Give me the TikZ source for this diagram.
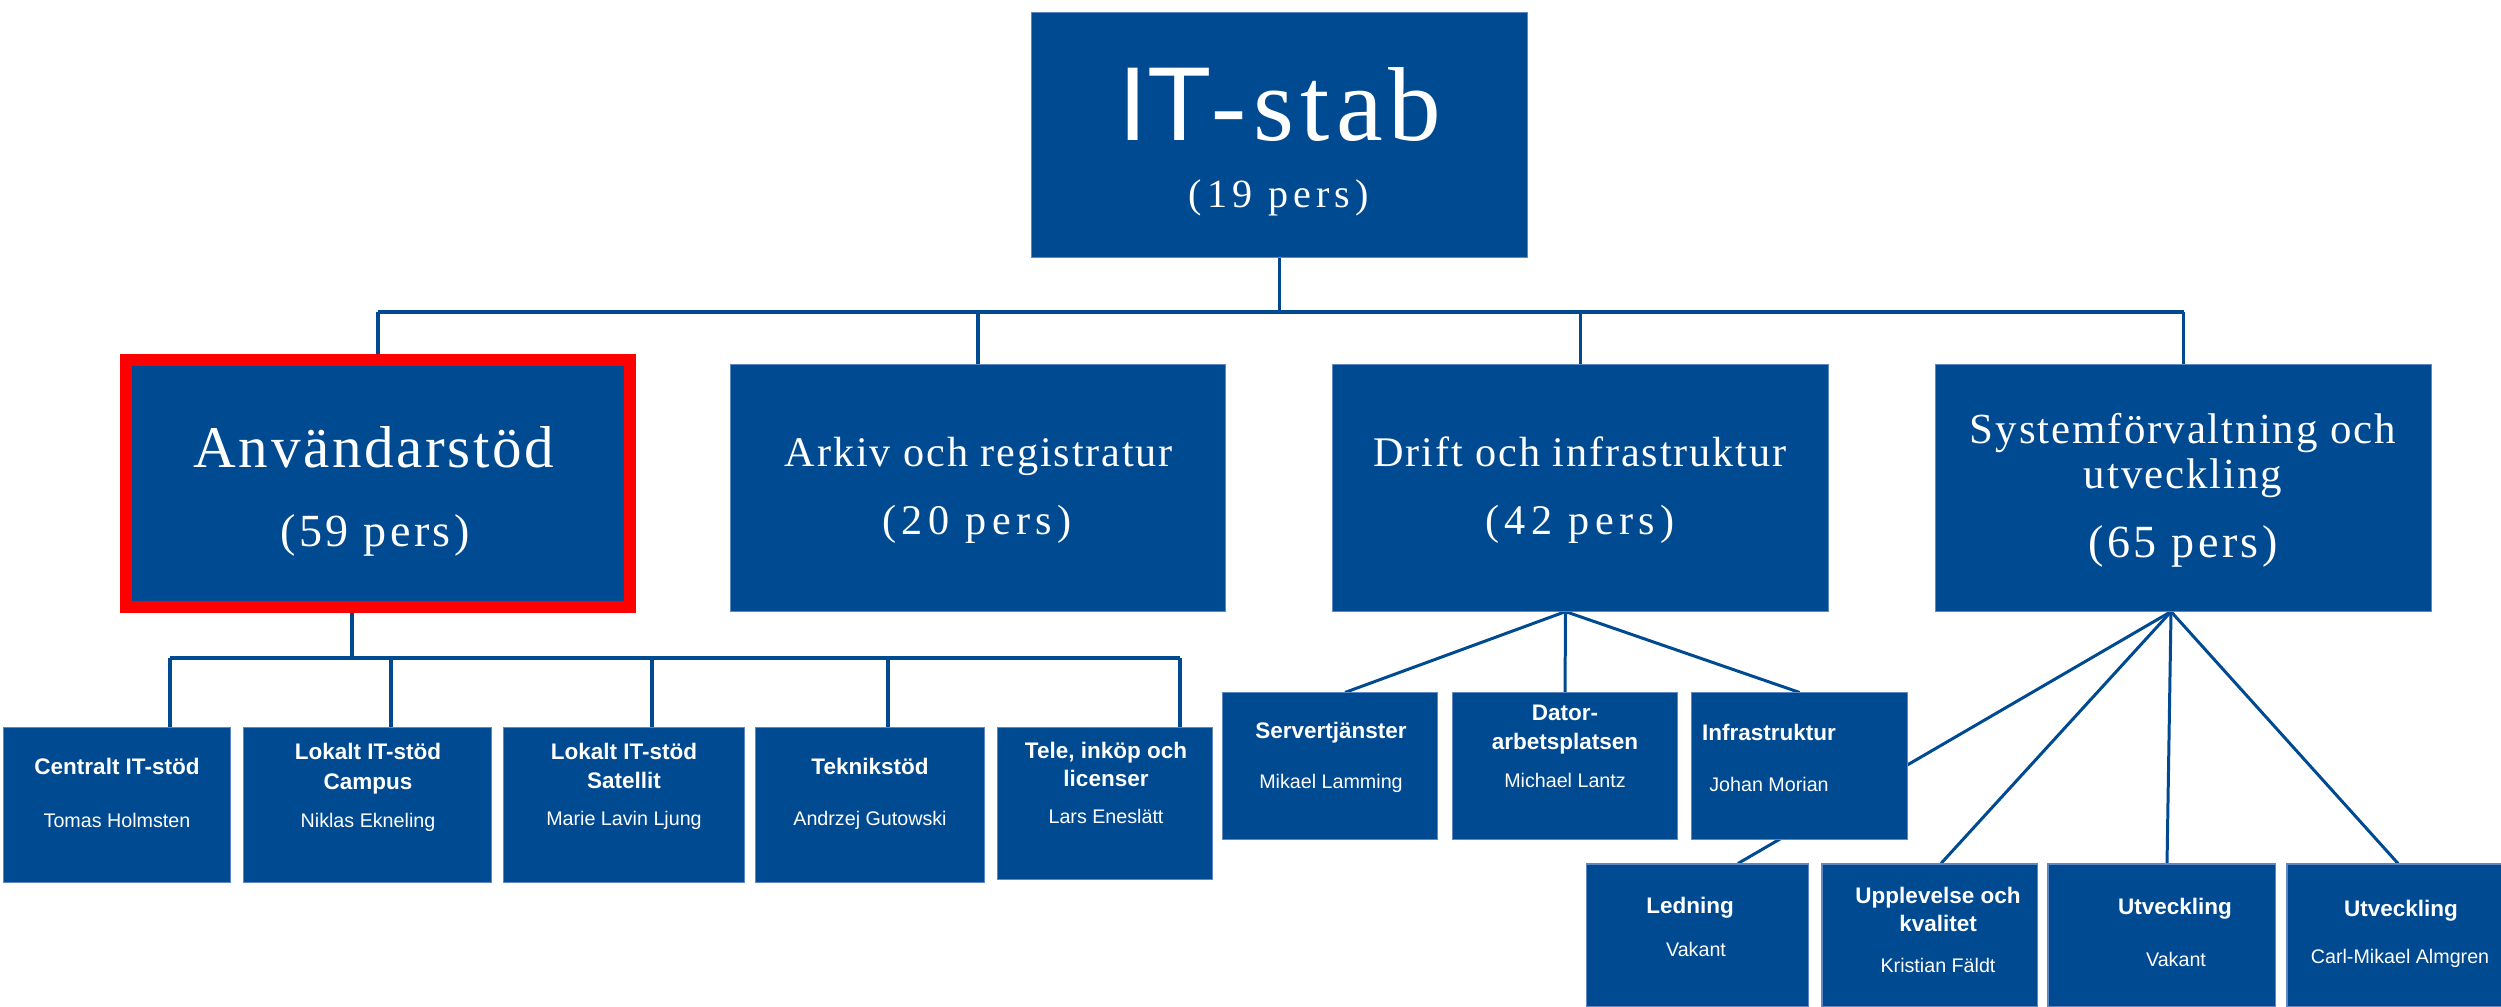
\documentclass[tikz,border=0pt]{standalone}
\usepackage{fontspec}
\setmainfont{Liberation Serif}
\setsansfont{Liberation Sans}
\newfontfamily\headsans{Liberation Sans}
\newfontfamily\headserif[LetterSpace=6]{Liberation Serif}
\newfontfamily\deptfont[LetterSpace=4.5]{Liberation Serif}
\newfontfamily\countfont[LetterSpace=13]{Liberation Serif}
\newfontfamily\countwide[LetterSpace=7.5]{Liberation Serif}
\usetikzlibrary{calc,backgrounds}
\definecolor{itblue}{RGB}{0,74,145}
\definecolor{edgeblue}{RGB}{95,135,195}
\definecolor{markred}{RGB}{255,0,0}

\tikzset{
  box/.style={rectangle, fill=itblue, draw=edgeblue, line width=0.3pt, inner sep=0pt},
  lbl/.style={text=white, inner sep=0pt, anchor=base},
  unittitle/.style={lbl, font=\sffamily\bfseries\fontsize{6.4}{7}\selectfont},
  unitname/.style={lbl, font=\sffamily\fontsize{5.6}{6}\selectfont},
  depttitle/.style={lbl, font=\deptfont\fontsize{12}{14}\selectfont},
  deptcount/.style={lbl, font=\countfont\fontsize{12}{14}\selectfont},
  wire/.style={draw=itblue, line width=1.1pt},
  fan/.style={draw=itblue, line width=0.85pt},
}

\begin{document}
\begin{tikzpicture}[x=0.01cm, y=-0.01cm]
\useasboundingbox (0,0) rectangle (2501,1006);

% ---- top level ----
\node[box, minimum width=4.95cm, minimum height=2.44cm] (itstab) at (1279.5,135) {};
\node[lbl, font=\fontsize{29.9}{32}\selectfont] (t-itstab) at (1280,140) {{\headsans IT}{\headserif -stab}};
\node[lbl, font=\countfont\fontsize{11.4}{13}\selectfont] (t-itstab-n) at (1279,207) {(19 pers)};

% ---- departments ----
\node[box, draw=markred, line width=0.12cm, minimum width=5.04cm, minimum height=2.47cm] (anv) at (378,483.5) {};
\node[lbl, font=\deptfont\fontsize{16.8}{18}\selectfont] (t-anv) at (374,467) {Användarstöd};
\node[lbl, font=\countwide\fontsize{13.1}{15}\selectfont] (t-anv-n) at (375,546) {(59 pers)};

\node[box, minimum width=4.94cm, minimum height=2.46cm] (arkiv) at (978,488) {};
\node[depttitle] (t-arkiv) at (979,466) {Arkiv och registratur};
\node[deptcount] (t-arkiv-n) at (977,534) {(20 pers)};

\node[box, minimum width=4.95cm, minimum height=2.46cm] (drift) at (1580.5,488) {};
\node[depttitle] (t-drift) at (1580,466) {Drift och infrastruktur};
\node[deptcount] (t-drift-n) at (1580,534) {(42 pers)};

\node[box, minimum width=4.95cm, minimum height=2.46cm] (sys) at (2183.5,488) {};
\node[depttitle, font=\deptfont\fontsize{12.2}{14}\selectfont] (t-sys-a) at (2183,443) {Systemförvaltning och};
\node[depttitle, font=\deptfont\fontsize{12.2}{14}\selectfont] (t-sys-b) at (2183,488) {utveckling};
\node[lbl, font=\countwide\fontsize{13.1}{15}\selectfont] (t-sys-n) at (2183,557) {(65 pers)};

% ---- units under Användarstöd ----
\node[box, minimum width=2.26cm, minimum height=1.54cm] (cen) at (117,805) {};
\node[unittitle] (t-cen) at (117,774) {Centralt IT-stöd};
\node[unitname] (n-cen) at (117,827) {Tomas Holmsten};

\node[box, minimum width=2.47cm, minimum height=1.54cm] (camp) at (367.5,805) {};
\node[unittitle] (t-camp-a) at (368,759) {Lokalt IT-stöd};
\node[unittitle] (t-camp-b) at (368,789) {Campus};
\node[unitname] (n-camp) at (368,827) {Niklas Ekneling};

\node[box, minimum width=2.40cm, minimum height=1.54cm] (sat) at (624,805) {};
\node[unittitle] (t-sat-a) at (624,759) {Lokalt IT-stöd};
\node[unittitle] (t-sat-b) at (624,788) {Satellit};
\node[unitname] (n-sat) at (624,825) {Marie Lavin Ljung};

\node[box, minimum width=2.28cm, minimum height=1.54cm] (tek) at (870,805) {};
\node[unittitle] (t-tek) at (870,774) {Teknikstöd};
\node[unitname] (n-tek) at (870,825) {Andrzej Gutowski};

\node[box, minimum width=2.14cm, minimum height=1.51cm] (tele) at (1105,803.5) {};
\node[unittitle] (t-tele-a) at (1106,758) {Tele, inköp och};
\node[unittitle] (t-tele-b) at (1106,786) {licenser};
\node[unitname] (n-tele) at (1106,823) {Lars Eneslätt};

% ---- units under Drift och infrastruktur ----
\node[box, minimum width=2.14cm, minimum height=1.46cm] (serv) at (1330,766) {};
\node[unittitle] (t-serv) at (1331,738) {Servertjänster};
\node[unitname] (n-serv) at (1331,788) {Mikael Lamming};

\node[box, minimum width=2.24cm, minimum height=1.46cm] (dator) at (1565,766) {};
\node[unittitle] (t-dator-a) at (1565,720) {Dator-};
\node[unittitle] (t-dator-b) at (1565,749) {arbetsplatsen};
\node[unitname] (n-dator) at (1565,787) {Michael Lantz};

\node[box, minimum width=2.15cm, minimum height=1.46cm] (infra) at (1799.5,766) {};
\node[unittitle] (t-infra) at (1769,740) {Infrastruktur};
\node[unitname] (n-infra) at (1769,791) {Johan Morian};

% ---- units under Systemförvaltning och utveckling ----
\node[box, minimum width=2.21cm, minimum height=1.42cm] (led) at (1697.5,935) {};
\node[unittitle] (t-led) at (1690,913) {Ledning};
\node[unitname] (n-led) at (1696,956) {Vakant};

\node[box, minimum width=2.15cm, minimum height=1.42cm] (upp) at (1929.5,935) {};
\node[unittitle] (t-upp-a) at (1938,903) {Upplevelse och};
\node[unittitle] (t-upp-b) at (1938,931) {kvalitet};
\node[unitname] (n-upp) at (1938,972) {Kristian Fäldt};

\node[box, minimum width=2.27cm, minimum height=1.42cm] (utv1) at (2161.5,935) {};
\node[unittitle] (t-utv1) at (2175,914) {Utveckling};
\node[unitname] (n-utv1) at (2176,966) {Vakant};

\node[box, minimum width=2.14cm, minimum height=1.42cm] (utv2) at (2394,935) {};
\node[unittitle] (t-utv2) at (2401,916) {Utveckling};
\node[unitname] (n-utv2) at (2400,963) {Carl-Mikael Almgren};

% ---- connectors (behind the boxes) ----
\begin{scope}[on background layer]
  % top bus
  \coordinate (bus) at (1280,312);
  \draw[wire] (itstab.south) -- (itstab.south |- bus);
  \draw[wire] (anv.north |- bus) -- (sys.north |- bus);
  \foreach \n in {anv,arkiv,drift,sys}
    \draw[wire] (\n.north |- bus) -- (\n.north);

  % bus under Användarstöd
  \coordinate (anvout) at ($(anv.south)+(-26,0)$);
  \coordinate (lbus) at (352,658);
  \draw[wire] (anvout) -- (anvout |- lbus);
  \coordinate (d-cen) at ($(cen.north)+(53,0)$);
  \coordinate (d-camp) at ($(camp.north)+(23.5,0)$);
  \coordinate (d-sat) at ($(sat.north)+(28,0)$);
  \coordinate (d-tek) at ($(tek.north)+(18,0)$);
  \coordinate (d-tele) at ($(tele.north)+(75,0)$);
  \draw[wire] (d-cen |- lbus) -- (d-tele |- lbus);
  \foreach \n in {cen,camp,sat,tek,tele}
    \draw[wire] (d-\n |- lbus) -- (d-\n);

  % fan under Drift och infrastruktur
  \coordinate (drifthub) at ($(drift.south)+(-15,0)$);
  \draw[fan] (drifthub) -- ($(serv.north)+(15,0)$);
  \draw[fan] (drifthub) -- (dator.north);
  \draw[fan] (drifthub) -- (infra.north);

  % fan under Systemförvaltning och utveckling
  \coordinate (syshub) at ($(sys.south)+(-12.5,0)$);
  \draw[fan] (syshub) -- ($(led.north)+(40.5,0)$);
  \draw[fan] (syshub) -- ($(upp.north)+(11.5,0)$);
  \draw[fan] (syshub) -- ($(utv1.north)+(5.5,0)$);
  \draw[fan] (syshub) -- ($(utv2.north)+(4,0)$);
\end{scope}
\end{tikzpicture}
\end{document}
